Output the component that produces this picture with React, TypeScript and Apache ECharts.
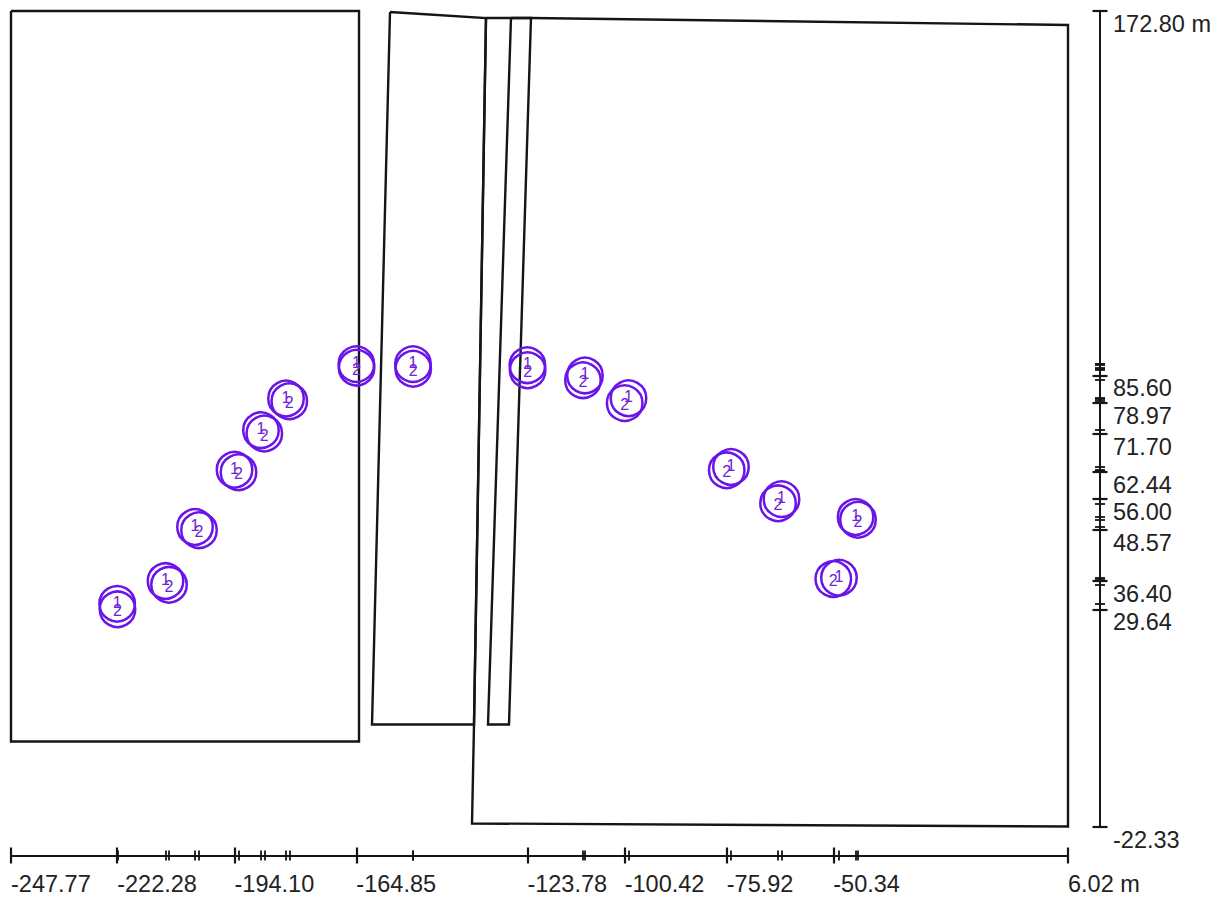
import React, { useEffect, useRef } from "react";
import * as echarts from "echarts";

const X_MIN = -247.77;
const X_MAX = 6.02;
const Y_MIN = -22.33;
const Y_MAX = 172.8;

const labelledX = [-247.77, -222.28, -194.1, -164.85, -123.78, -100.42, -75.92, -50.34, 6.02];
const labelledY = [172.8, 85.6, 78.97, 71.7, 62.44, 56.0, 48.57, 36.4, 29.64, -22.33];

const points1: [number, number][] = [
  [-222.28, 30.95], [-210.67, 36.4], [-203.59, 49.34], [-194.1, 63.03], [-187.75, 72.5],
  [-181.74, 80.08], [-164.85, 88.3], [-151.25, 88.3], [-123.78, 88.05], [-109.96, 85.6],
  [-99.51, 80.15], [-74.9, 63.7], [-62.77, 56.0], [-48.97, 37.2], [-44.98, 51.73],
];
const points2: [number, number][] = [
  [-222.2, 29.64], [-209.83, 35.5], [-202.63, 48.57], [-193.15, 62.44], [-186.95, 71.7],
  [-180.95, 79.43], [-164.8, 87.45], [-151.2, 87.2], [-123.72, 86.85], [-110.44, 84.46],
  [-100.42, 78.97], [-75.92, 62.9], [-63.6, 55.0], [-50.34, 36.9], [-44.4, 51.06],
];

const outlineLeft: [number, number][] = [
  [-247.77, 172.8], [-164.21, 172.8], [-164.21, -1.98], [-247.77, -1.98], [-247.77, 172.8],
];
const outlineMiddle: [number, number][] = [
  [-156.77, 172.56], [-133.72, 171.12], [-136.6, 2.09], [-161.09, 2.09], [-156.77, 172.56],
];
const outlineStrip: [number, number][] = [
  [-127.72, 171.12], [-122.92, 171.12], [-128.2, 2.09], [-133.24, 2.09], [-127.72, 171.12],
];
const outlineRight: [number, number][] = [
  [-133.72, 171.12], [-122.92, 171.12], [6.02, 169.45], [6.02, -22.33], [-137.08, -21.61], [-136.6, 2.09], [-133.72, 171.12],
];

const shortX = [...points1, ...points2].map((p) => p[0]).filter((v) => !labelledX.includes(v));
const shortY = [...points1, ...points2].map((p) => p[1]).filter((v) => !labelledY.includes(v));

const INK = "#151515";
const PURPLE = "#6a14ea";
const FONT = "'Liberation Sans', Arial, sans-serif";
const FONT_SIZE = 23.5;

function rulerAxis(kind: "x" | "y", ticks: number[], length: number, inside: boolean, width: number, labels?: number[]) {
  const isX = kind === "x";
  return {
    type: "value",
    gridIndex: 0,
    position: isX ? "bottom" : "right",
    offset: isX ? 29 : 32,
    min: isX ? X_MIN : Y_MIN,
    max: isX ? X_MAX : Y_MAX,
    splitLine: { show: false },
    axisLine: { show: true, onZero: false, lineStyle: { color: INK, width: 2 } },
    axisTick: {
      show: true,
      inside,
      length,
      customValues: ticks,
      lineStyle: { color: INK, width },
    },
    axisLabel: labels
      ? {
          show: true,
          customValues: labels,
          hideOverlap: false,
          showMinLabel: true,
          showMaxLabel: true,
          align: "left",
          verticalAlign: "top",
          margin: isX ? 16 : 13,
          padding: isX ? [0, 0, 0, 0] : [1, 0, 0, 0],
          fontFamily: FONT,
          fontSize: FONT_SIZE,
          color: "#222",
          formatter: (v: number) =>
            v.toFixed(2) + (v === (isX ? X_MAX : Y_MAX) ? " m" : ""),
        }
      : { show: false },
  };
}

function outline(name: string, data: [number, number][]) {
  return {
    name,
    type: "line",
    data,
    showSymbol: false,
    symbol: "none",
    clip: false,
    z: 2,
    lineStyle: { color: INK, width: 2.4, join: "miter" },
  };
}

function circles(name: string, data: [number, number][], labelShift: number) {
  return {
    name,
    type: "scatter",
    data,
    clip: false,
    symbol: "circle",
    symbolSize: 35.5,
    z: 3,
    itemStyle: { color: "transparent", borderColor: PURPLE, borderWidth: 2.5, opacity: 1 },
    label: {
      show: true,
      position: "inside",
      offset: [0, labelShift],
      formatter: name,
      fontFamily: FONT,
      fontSize: 16,
      color: "#6f22d8",
    },
  };
}

export default function App() {
  const ref = useRef<HTMLDivElement>(null);
  useEffect(() => {
    if (!ref.current) return;
    document.body.style.margin = "0";
    const chart = echarts.init(ref.current, undefined, { renderer: "svg" });
    chart.setOption({
      animation: false,
      backgroundColor: "#ffffff",
      grid: { left: 11, top: 11, width: 1057, height: 815.5 },
      xAxis: [
        rulerAxis("x", labelledX, 8, false, 2.2, labelledX),
        rulerAxis("x", labelledX, 8, true, 2.2),
        rulerAxis("x", shortX, 5, false, 1.8),
        rulerAxis("x", shortX, 5, true, 1.8),
      ],
      yAxis: [
        rulerAxis("y", labelledY, 7.5, false, 2.2, labelledY),
        rulerAxis("y", labelledY, 7.5, true, 2.2),
        rulerAxis("y", shortY, 5, false, 1.8),
        rulerAxis("y", shortY, 5, true, 1.8),
      ],
      series: [
        outline("left", outlineLeft),
        outline("middle", outlineMiddle),
        outline("strip", outlineStrip),
        outline("right", outlineRight),
        circles("1", points1, -1.5),
        circles("2", points2, 1.5),
      ],
    });
    return () => chart.dispose();
  }, []);
  return <div ref={ref} style={{ position: "absolute", left: 0, top: 0, width: 1222, height: 897 }} />;
}
